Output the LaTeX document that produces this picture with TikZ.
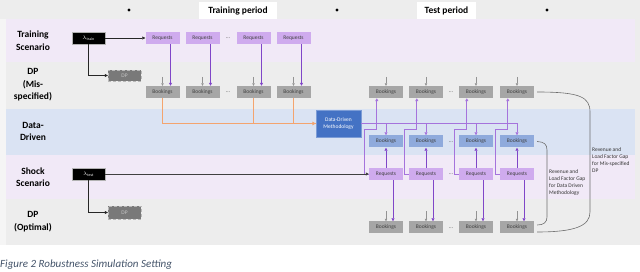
\documentclass[tikz,border=0pt]{standalone}
\usepackage{fontspec}
\setmainfont{Carlito}
\usetikzlibrary{arrows.meta}
\definecolor{bggray}{HTML}{EDEDED}
\definecolor{lightstrip}{HTML}{F5F5F5}
\definecolor{bandpurple}{HTML}{F1E9F7}
\definecolor{bandblue}{HTML}{DAE3F3}
\definecolor{reqfill}{HTML}{CFABEE}
\definecolor{bookgray}{HTML}{A6A6A6}
\definecolor{ddbookfill}{HTML}{8FAADC}
\definecolor{ddblue}{HTML}{4472C4}
\definecolor{connpurple}{RGB}{165,115,220}
\definecolor{arrowpurple}{RGB}{128,70,200}
\definecolor{orangeline}{HTML}{F4A46E}
\definecolor{captioncol}{HTML}{44546A}
\definecolor{bracketcol}{HTML}{6E6E6E}
\begin{document}
\begin{tikzpicture}[x=1pt,y=-1pt,
  boxbase/.style={minimum width=34pt, minimum height=12pt, inner sep=0pt,
    font=\fontsize{5.5}{6.5}\selectfont, text=black!75},
  req/.style={boxbase, fill=reqfill},
  book/.style={boxbase, fill=bookgray},
  ddbook/.style={boxbase, fill=ddbookfill},
  lam/.style={boxbase, minimum width=33pt, fill=black, draw=gray!60, line width=0.3pt, text=white},
  dpbox/.style={boxbase, minimum width=33pt, minimum height=11pt, fill=gray!95!black, draw=gray!55, densely dashed, line width=0.3pt, text=gray!45},
  ddmeth/.style={boxbase, minimum width=45pt, minimum height=27pt, fill=ddblue, draw=ddblue!70, line width=0.3pt, text=white, align=center, font=\fontsize{5.5}{6.5}\selectfont},
  connline/.style={color=connpurple, line width=0.8pt},
  connarrow/.style={connline, -{Triangle[length=3pt,width=3pt]}},
  darrow/.style={color=arrowpurple, line width=0.8pt, -{Triangle[length=3pt,width=3pt]}},
  garrow/.style={color=gray!85, line width=0.5pt, -{Triangle[length=2.5pt,width=2.5pt]}},
  barrow/.style={color=black!85, line width=0.5pt, -{Triangle[length=3pt,width=3pt]}},
  oline/.style={color=orangeline, line width=1.1pt},
  bracket/.style={color=bracketcol, line width=0.6pt},
  rowlabel/.style={font=\fontsize{9.5}{12.5}\selectfont\bfseries, align=center, text=black},
  dots/.style={font=\fontsize{5.5}{6.5}\selectfont, text=black!70, inner sep=0pt},
  gaplabel/.style={font=\fontsize{5.5}{7}\selectfont, align=left, anchor=north west, inner sep=0pt, text=black!80},
  header/.style={font=\fontsize{9.5}{11}\selectfont\bfseries, text=black}
]
\useasboundingbox (0,0) rectangle (640,272);
% backgrounds
\fill[white] (0,0) rectangle (640,272);
\fill[bggray] (0,0) rectangle (640,245);
\fill[lightstrip] (0,19) rectangle (6,245);
\fill[bandpurple] (6,19) rectangle (635,62);
\fill[bandblue] (6,109) rectangle (635,155);
\fill[bandpurple] (6,155) rectangle (635,199);
% header
\fill[white] (199,2) rectangle (277,19);
\fill[white] (417,2) rectangle (476,19);
\node[header] (hTrain) at (238,11) {Training period};
\node[header] (hTest) at (446.5,11) {Test period};
\fill[black] (129,10) circle (1.6);
\fill[black] (337,10) circle (1.6);
\fill[black] (547,10) circle (1.6);
% row labels
\node[rowlabel] (l1) at (33,40.5) {Training\\Scenario};
\node[rowlabel] (l2) at (33,85) {DP\\(Mis-\\specified)};
\node[rowlabel] (l3) at (33,131.5) {Data-\\Driven};
\node[rowlabel] (l4) at (33,177) {Shock\\Scenario};
\node[rowlabel] (l5) at (33,221.5) {DP\\(Optimal)};
% lambda and DP boxes
\node[lam] (lamT) at (88.5,38) {$\lambda_{\mathrm{train}}$};
\node[dpbox] (dpT) at (124.5,75.5) {DP};
\node[lam] (lamS) at (88.5,174) {$\lambda_{\mathrm{test}}$};
\node[dpbox, minimum height=13pt] (dpO) at (124.5,212.5) {DP};
% training period
\foreach \i/\x in {1/162.5,2/202.5,3/253.5,4/293.5}{
  \node[req] (rT\i) at (\x,38) {Requests};
  \node[book] (bT\i) at (\x,92) {Bookings};
}
\node[dots] (dT1) at (228,38.5) {…};
\node[dots] (dT2) at (228,92.5) {…};
% data-driven methodology
\node[ddmeth] (dd) at (338.5,123.5) {Data-Driven\\Methodology};
% test period
\foreach \i/\x in {1/386,2/426,3/476,4/517}{
  \node[book] (bM\i) at (\x,92) {Bookings};
  \node[ddbook] (bD\i) at (\x,141.5) {Bookings};
  \node[req] (rS\i) at (\x,174) {Requests};
  \node[book] (bO\i) at (\x,227.5) {Bookings};
}
\node[dots] (dM) at (451,92.5) {…};
\node[dots] (dD) at (451,142) {…};
\node[dots] (dS) at (451,174.5) {…};
\node[dots] (dO) at (451,228) {…};
% black arrows
\draw[barrow] (lamT.east) -- (rT1.west);
\draw[barrow] (lamT.south) |- (dpT.west);
\draw[barrow] (lamS.south) |- (dpO.west);
% orange lines
\draw[oline] (bT3.south) |- (dd.west);
\draw[oline] (bT4.south) |- (dd.west);
\draw[oline, -{Triangle[length=3.5pt,width=3.5pt]}] (bT1.south) |- (dd.west);
% training purple and gray arrows
\foreach \i in {1,2,3,4}{
  \draw[darrow] ([xshift=8pt]rT\i.south) -- ([xshift=8pt]bT\i.north);
  \draw[garrow] ([yshift=9pt]bT\i.north) -- (bT\i.north);
}
% test period connectors
\draw[connline] (dd.east) -- (bD4.north |- dd.east);
\foreach \i in {1,2,3,4}{
  \draw[garrow] ([yshift=9pt]bM\i.north) -- (bM\i.north);
  \draw[connarrow] (rS\i.west) -- ++(-4,0) -- ++(0,-45) -| ([xshift=8pt]bM\i.south west);
  \draw[connarrow] (bD\i.north |- dd.east) -- (bD\i.north);
  \draw[darrow] (rS\i.north) -- (bD\i.south);
  \draw[darrow] ([xshift=7pt]rS\i.south) -- ([xshift=7pt]bO\i.north);
  \draw[garrow] ([yshift=10pt]bO\i.north) -- (bO\i.north);
}
\draw[barrow, color=black!75, line width=0.8pt] (lamS.east) -- (rS1.west);
% brackets
\draw[bracket] ([xshift=3pt]bM4.east) .. controls (580,92) and (590,97) .. (590,112)
  -- (590,212) .. controls (590,226) and (575,232) .. ([xshift=3pt,yshift=-4.5pt]bO4.east);
\draw[bracket] ([xshift=3pt]bD4.east) .. controls (544,142) and (547,144) .. (547,150)
  -- (547,217) .. controls (547,222) and (544,225) .. ([xshift=3pt,yshift=2.5pt]bO4.east);
\node[gaplabel] (gapMis) at (592,147.5) {Revenue and\\Load Factor Gap\\for Mis-specified\\DP};
\node[gaplabel] (gapDD) at (549,169.5) {Revenue and\\Load Factor Gap\\for Data Driven\\Methodology};
% caption
\node[anchor=west, inner sep=0pt, font=\fontsize{11}{12}\selectfont\itshape, text=captioncol] (cap) at (0,265) {Figure 2 Robustness Simulation Setting};
\end{tikzpicture}
\end{document}
